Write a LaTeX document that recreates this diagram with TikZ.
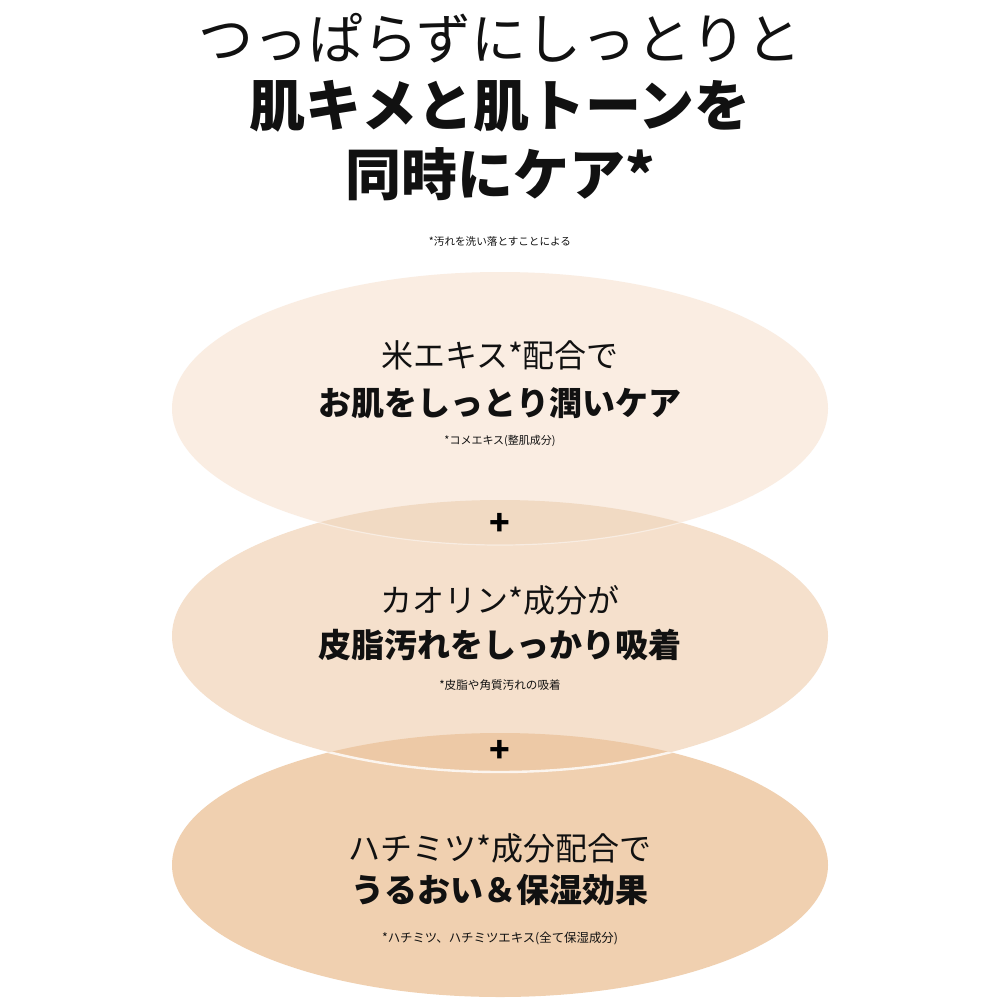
\documentclass[tikz,border=0pt]{standalone}
\usepackage{fontspec}
\setmainfont{Noto Sans CJK JP}
\definecolor{ellA}{HTML}{FAEDE2}
\definecolor{ellB}{HTML}{F5E0CC}
\definecolor{ellC}{HTML}{F0D0B0}
\definecolor{ovAB}{HTML}{F1DAC3}
\definecolor{ovBC}{HTML}{EDC9A6}
\definecolor{txt}{HTML}{111111}
\tikzset{
  fs/.style={font=\fontsize{#1pt}{#1pt}\selectfont},
  bfs/.style={font=\fontsize{#1pt}{#1pt}\selectfont\bfseries},
  headline/.style={inner sep=0pt, text=txt, anchor=center},
  plusmark/.style={inner sep=0pt, text=black, font=\fontsize{17pt}{17pt}\selectfont\bfseries},
}
\begin{document}
\begin{tikzpicture}[x=0.5pt,y=-0.5pt]
\useasboundingbox[fill=white] (0,0) rectangle (1000,1000);
% ellipses
\fill[ellC] (500,865) ellipse [x radius=328, y radius=132];
\fill[ellB] (500,636) ellipse [x radius=328, y radius=136];
\fill[ellA] (500,408.5) ellipse [x radius=328, y radius=136.5];
\begin{scope}
  \clip (500,408.5) ellipse [x radius=328, y radius=136.5];
  \fill[ovAB] (500,636) ellipse [x radius=328, y radius=136];
\end{scope}
\begin{scope}
  \clip (500,636) ellipse [x radius=328, y radius=136];
  \fill[ovBC] (500,865) ellipse [x radius=328, y radius=132];
\end{scope}
% light rims
\begin{scope}
  \clip (500,865) ellipse [x radius=328, y radius=132];
  \draw[white, opacity=0.8, line width=1.2pt] (500,636) ellipse [x radius=328, y radius=136];
\end{scope}
\begin{scope}
  \clip (500,636) ellipse [x radius=328, y radius=136];
  \draw[white, opacity=0.45, line width=0.6pt] (500,408.5) ellipse [x radius=328, y radius=136.5];
\end{scope}
% title
\node[headline, fs=27.5] (t1) at (500,38) {つっぱらずにしっとりと};
\node[headline, bfs=28] (t2) at (500,106) {肌キメと肌トーンを};
\node[headline, bfs=28] (t3) at (500,174) {同時にケア*};
\node[headline, fs=5.3] (fn) at (500,241) {*汚れを洗い落とすことによる};
% ellipse 1
\node[headline, fs=16] (a1) at (500,355) {米エキス*配合で};
\node[headline, bfs=16.5] (a2) at (500,403) {お肌をしっとり潤いケア};
\node[headline, fs=5.5] (a3) at (500,441) {*コメエキス(整肌成分)};
% plus 1
\node[plusmark] (p1) at (500,524) {+};
% ellipse 2
\node[headline, fs=16] (b1) at (500,600) {カオリン*成分が};
\node[headline, bfs=16.5] (b2) at (500,645) {皮脂汚れをしっかり吸着};
\node[headline, fs=5.8] (b3) at (500,685) {*皮脂や角質汚れの吸着};
% plus 2
\node[plusmark] (p2) at (500,751) {+};
% ellipse 3
\node[headline, fs=16] (c1) at (500,848) {ハチミツ*成分配合で};
\node[headline, bfs=16.5] (c2) at (500,890) {うるおい＆保湿効果};
\node[headline, fs=6.2] (c3) at (500,938) {*ハチミツ、ハチミツエキス(全て保湿成分)};
\end{tikzpicture}
\end{document}
